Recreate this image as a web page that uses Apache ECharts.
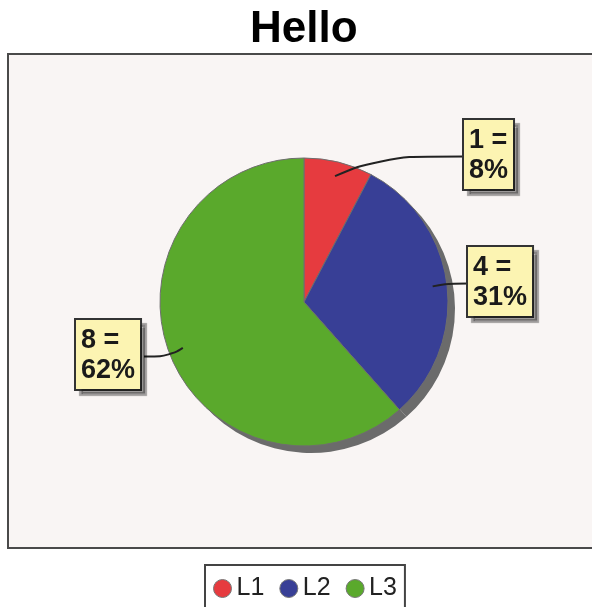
<!DOCTYPE html>
<html>
<head>
<meta charset="utf-8">
<script src="https://cdn.jsdelivr.net/npm/echarts@6/dist/echarts.min.js"></script>
<style>
  html, body { margin: 0; padding: 0; background: #fff; }
  #chart { width: 592px; height: 607px; }
</style>
</head>
<body>
<div id="chart"></div>
<script>
// chart data
const categories = ['L1', 'L2', 'L3']
const values = [1, 4, 8]
const colors = ['#e63b3f', '#383f96', '#5aa92c']

const total = values.reduce((a, b) => a + b, 0)

// pie geometry
const pieCenter = [304, 302]
const pieRadius = 144

// where each label box sits (left, top)
const labelSpots = [[464, 120], [468, 247], [76, 320]]

const pieData = categories.map((name, i) => ({
  name: name,
  value: values[i],
  itemStyle: { color: colors[i] }
}))

const plainData = categories.map((name, i) => ({
  name: name,
  value: values[i]
}))

// move label box, and run the leader line from inside the slice to the box
const placeLabel = params => {
  const spot = labelSpots[params.dataIndex]
  const pts = params.labelLinePoints
  const rect = params.labelRect
  const out = { x: spot[0], y: spot[1], align: 'left', verticalAlign: 'top' }
  if (!pts) return out
  const dx = pts[0][0] - pieCenter[0]
  const dy = pts[0][1] - pieCenter[1]
  const start = [pieCenter[0] + dx * 0.9, pieCenter[1] + dy * 0.9]
  const onLeft = dx < 0
  const endY = spot[1] + rect.height / 2
  const end = [onLeft ? spot[0] + rect.width : spot[0], endY]
  const knee = [start[0] + (end[0] - start[0]) * 0.35, endY]
  out.labelLinePoints = [start, knee, end]
  return out
}

const chart = echarts.init(document.getElementById('chart'))

chart.setOption({
  animation: false,
  backgroundColor: '#fff',
  title: {
    text: 'Hello',
    left: 245,
    top: 3,
    textStyle: {
      fontFamily: 'Liberation Sans',
      fontSize: 44,
      fontWeight: 'bold',
      color: '#000'
    }
  },
  legend: {
    data: categories,
    left: 205,
    top: 565,
    orient: 'horizontal',
    icon: 'circle',
    itemWidth: 18,
    itemHeight: 18,
    itemGap: 15,
    padding: [11, 8, 30, 8],
    borderColor: '#444',
    borderWidth: 2,
    backgroundColor: '#fff',
    itemStyle: { borderColor: '#777', borderWidth: 1 },
    textStyle: {
      fontFamily: 'Liberation Sans',
      fontSize: 25,
      color: '#222'
    }
  },
  graphic: [{
    type: 'rect',
    z: -10,
    shape: { x: 8, y: 54, width: 620, height: 494 },
    style: { fill: '#f9f5f4', stroke: '#4a4a4a', lineWidth: 2 }
  }],
  series: [
    {
      name: 'main',
      type: 'pie',
      z: 2,
      center: pieCenter,
      radius: pieRadius,
      startAngle: 90,
      clockwise: true,
      data: pieData,
      itemStyle: { borderColor: '#6e6e6e', borderWidth: 1 },
      emphasis: { scale: false },
      label: { show: false },
      labelLine: { show: false }
    },
    {
      name: 'shadow',
      type: 'pie',
      z: 1,
      silent: true,
      center: [pieCenter[0] + 7, pieCenter[1] + 7],
      radius: pieRadius,
      startAngle: 90,
      data: plainData,
      itemStyle: { color: '#6b6b6b' },
      label: { show: false },
      labelLine: { show: false },
      emphasis: { disabled: true }
    },
    {
      // invisible copy that only carries labels, so leader lines sit on top of the slices
      name: 'labels',
      type: 'pie',
      z: 3,
      silent: true,
      center: pieCenter,
      radius: pieRadius,
      startAngle: 90,
      clockwise: true,
      data: plainData,
      itemStyle: { color: 'rgba(0,0,0,0)', borderWidth: 0 },
      emphasis: { disabled: true },
      label: {
        show: true,
        position: 'outside',
        formatter: p => p.value + ' =\n' + Math.round(p.value / total * 100) + '%',
        fontFamily: 'Liberation Sans',
        fontWeight: 'bold',
        fontSize: 27,
        lineHeight: 30,
        color: '#1a1a1a',
        backgroundColor: '#fcf4b2',
        borderColor: '#333',
        borderWidth: 2,
        padding: [6, 5, 3, 5],
        shadowColor: 'rgba(0,0,0,0.35)',
        shadowOffsetX: 5,
        shadowOffsetY: 5,
        shadowBlur: 1
      },
      labelLine: {
        show: true,
        smooth: 0.5,
        length: 20,
        length2: 20,
        lineStyle: { color: '#222', width: 2 }
      },
      labelLayout: placeLabel
    }
  ]
})
</script>
</body>
</html>
